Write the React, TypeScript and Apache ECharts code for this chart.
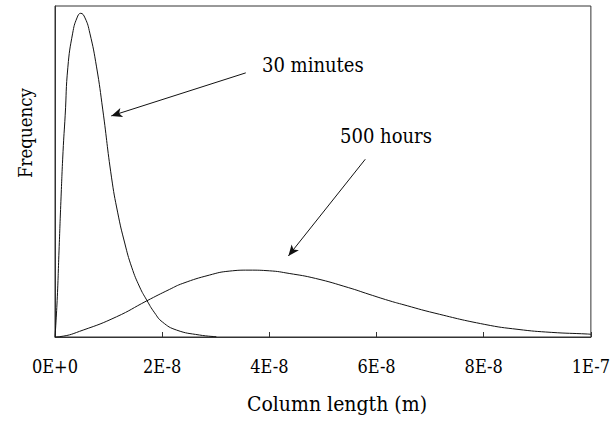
import React, { useEffect, useRef } from "react";
import * as echarts from "echarts";

// x values in nanometres (1e-9 m); y values in relative frequency units (0-100)
const tickLabels = ["0E+0", "2E-8", "4E-8", "6E-8", "8E-8", "1E-7"];

const min30X = [0, 0.4, 0.75, 1.1, 1.5, 1.9, 2.4, 3.3, 4.1, 4.8, 5.6, 6.5, 7.75, 8.92, 10.54, 11.71, 13.01, 14.31, 15.8, 17.1, 18.59, 20.07, 22.68, 26.95, 30.1];
const min30Y = [0, 11, 26, 41, 56, 67, 81.5, 91.8, 96.4, 97.8, 96.4, 91.8, 81.6, 68.6, 48.3, 37.5, 28.4, 21.1, 15.1, 11.2, 7.3, 4.5, 2.1, 0.6, 0.1];

const h500X = [0, 0.9, 5.26, 11.47, 17.1, 21.4, 23.85, 28.8, 32.5, 36.2, 40.0, 43.7, 48.6, 54.8, 58.6, 62.3, 64.7, 70.9, 80.2, 86.4, 92.6, 99.4, 100];
const h500Y = [0, 0.1, 2.1, 6.1, 10.9, 14.4, 16.2, 18.7, 19.9, 20.2, 20.0, 19.2, 17.7, 14.9, 12.9, 11.0, 9.9, 7.2, 3.8, 2.3, 1.4, 0.9, 0.8];

// annotation arrows: [startX, startY] -> [endX, endY] in data units
const arrow30 = [[35.6, 79.8], [10.5, 66.8]];
const arrow500 = [[57.9, 53.7], [43.55, 24.5]];

const FONT = "DejaVu Serif Condensed";

export default function App() {
  const ref = useRef<HTMLDivElement>(null);
  useEffect(() => {
    if (!ref.current) return;
    const chart = echarts.init(ref.current, null, { renderer: "svg" });
    const arrowLine = (a: number[][]) => ({
      silent: true,
      symbol: ["none", "arrow"],
      symbolSize: [7, 11],
      label: { show: false },
      lineStyle: { color: "#111", width: 1, type: "solid" },
      data: [[{ coord: a[0] }, { coord: a[1] }]],
    });
    const txt = (text: string, x: number, y: number, size: number, align: string, extra: any = {}) => ({
      type: "text",
      x,
      y,
      ...extra,
      style: {
        text,
        fill: "#000",
        fontFamily: FONT,
        fontSize: size,
        textAlign: align,
        textVerticalAlign: "middle",
      },
    });
    chart.setOption({
      animation: false,
      backgroundColor: "#fff",
      grid: {
        left: 55,
        right: 20,
        top: 6,
        bottom: 84,
        show: true,
        borderColor: "#333",
        borderWidth: 1,
        backgroundColor: "transparent",
      },
      xAxis: {
        type: "value",
        min: 0,
        max: 100,
        interval: 20,
        axisLine: { show: true, lineStyle: { color: "#333", width: 1 } },
        axisTick: { show: true, inside: true, length: 5, lineStyle: { color: "#333" } },
        splitLine: { show: false },
        axisLabel: {
          color: "#000",
          fontFamily: FONT,
          fontSize: 18,
          margin: 20,
          formatter: (v: number) => tickLabels[Math.round(v / 20)] ?? "",
        },
      },
      yAxis: {
        type: "value",
        min: 0,
        max: 100,
        axisLine: { show: true, lineStyle: { color: "#333", width: 1 } },
        axisTick: { show: false },
        axisLabel: { show: false },
        splitLine: { show: false },
      },
      series: [
        {
          name: "30 minutes",
          type: "line",
          data: min30X.map((x, i) => [x, min30Y[i]]),
          showSymbol: false,
          smooth: 0.5,
          lineStyle: { color: "#111", width: 1 },
          markLine: arrowLine(arrow30),
        },
        {
          name: "500 hours",
          type: "line",
          data: h500X.map((x, i) => [x, h500Y[i]]),
          showSymbol: false,
          smooth: 0.5,
          lineStyle: { color: "#111", width: 1 },
          markLine: arrowLine(arrow500),
        },
      ],
      graphic: [
        txt("30 minutes", 262, 65, 20, "left"),
        txt("500 hours", 340, 136, 20, "left"),
        txt("Column length (m)", 337, 404, 21, "center"),
        txt("Frequency", 25, 133, 18.5, "center", { rotation: Math.PI / 2 }),
      ],
    });
    return () => chart.dispose();
  }, []);
  return <div ref={ref} style={{ width: 613, height: 421, position: "absolute", left: 0, top: 0 }} />;
}
